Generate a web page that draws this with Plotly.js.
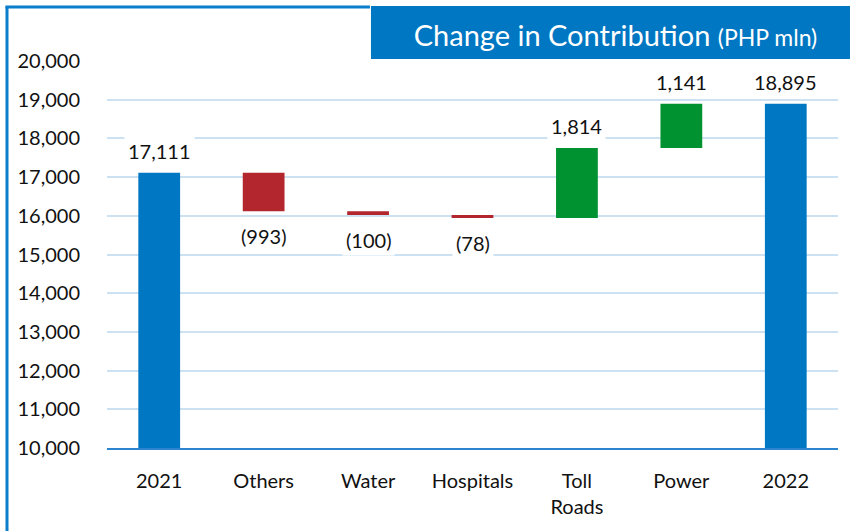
<!DOCTYPE html>
<html>
<head>
<meta charset="utf-8">
<script src="https://cdn.plot.ly/plotly-3.0.1.min.js"></script>
<style>
  html, body { margin: 0; padding: 0; background: #ffffff; }
  #chart { width: 850px; height: 531px; }
</style>
</head>
<body>
<div id="chart"></div>
<script>
// ---- data ----
const categories = ['2021', 'Others', 'Water', 'Hospitals', 'Toll<br>Roads', 'Power', '2022'];
const values = [17111, -993, -100, -78, 1814, 1141, 18895];
const measures = ['absolute', 'relative', 'relative', 'relative', 'relative', 'relative', 'total'];
const labelTexts = ['17,111', '(993)', '(100)', '(78)', '1,814', '1,141', '18,895'];
const yTickVals = [10000, 11000, 12000, 13000, 14000, 15000, 16000, 17000, 18000, 19000, 20000];
const yTickText = ['10,000', '11,000', '12,000', '13,000', '14,000', '15,000', '16,000', '17,000', '18,000', '19,000', '20,000'];

const BLUE = '#0077C2';
const RED = '#B3262D';
const GREEN = '#009130';
const FONT = 'Lato, "Open Sans", sans-serif';

// running totals to place the labels at the end of each bar
let running = 0;
const annotations = [];
for (let i = 0; i < values.length; i++) {
  let top, bottom;
  if (measures[i] === 'absolute') { running = values[i]; top = running; }
  else if (measures[i] === 'total') { top = running; }
  else {
    const start = running;
    running += values[i];
    top = Math.max(start, running);
    bottom = Math.min(start, running);
  }
  const neg = measures[i] === 'relative' && values[i] < 0;
  annotations.push({
    x: i, xref: 'x', y: neg ? bottom : top, yref: 'y',   // x = category index
    text: labelTexts[i], showarrow: false,
    yanchor: neg ? 'top' : 'bottom', yshift: neg ? -9 : 6,
    font: { family: FONT, size: 20, color: '#111111' },
    bgcolor: '#ffffff', borderpad: 3
  });
}

const trace = {
  type: 'waterfall',
  x: categories,
  y: values,
  measure: measures,
  textinfo: 'none',
  hoverinfo: 'x+y',
  connector: { visible: false },
  increasing: { marker: { color: GREEN } },
  decreasing: { marker: { color: RED } },
  totals: { marker: { color: BLUE } }
};

const layout = {
  width: 850, height: 531,
  margin: { l: 107, r: 12, t: 61, b: 83, pad: 0 },
  paper_bgcolor: '#ffffff', plot_bgcolor: '#ffffff',
  showlegend: false,
  waterfallgap: 0.6,
  font: { family: FONT, size: 20, color: '#111111' },
  title: {
    text: 'Change in Contribution <span style="font-size:23px">(PHP mln)</span>',
    font: { family: FONT, size: 29, color: '#ffffff' },
    xref: 'container', yref: 'container',
    x: 0.7241, xanchor: 'center', y: 0.932, yanchor: 'middle'
  },
  xaxis: {
    type: 'category',
    range: [-0.5, categories.length - 0.5],
    showgrid: false,
    showline: true, linecolor: '#2B86CF', linewidth: 2,
    ticks: 'outside', ticklen: 14, tickcolor: 'rgba(0,0,0,0)',
    tickfont: { family: FONT, size: 20, color: '#111111' },
    fixedrange: true
  },
  yaxis: {
    range: [10000, 20000],
    tickvals: yTickVals, ticktext: yTickText,
    showgrid: true, gridcolor: '#CCE2F3', gridwidth: 2,
    zeroline: false, showline: false,
    ticks: 'outside', ticklen: 22, tickcolor: 'rgba(0,0,0,0)',
    tickfont: { family: FONT, size: 20, color: '#111111' },
    fixedrange: true
  },
  annotations: annotations,
  shapes: [
    // outer border: left and top
    { type: 'line', xref: 'paper', yref: 'paper', x0: -0.1368, x1: -0.1368, y0: 1.1395, y1: -0.25,
      line: { color: '#0A7DCB', width: 3 }, layer: 'above' },
    { type: 'line', xref: 'paper', yref: 'paper', x0: -0.139, x1: 0.3597, y0: 1.1395, y1: 1.1395,
      line: { color: '#0A7DCB', width: 3 }, layer: 'above' },
    // title box
    { type: 'rect', xref: 'paper', yref: 'paper', x0: 0.3611, x1: 1.02, y0: 1.0052, y1: 1.1421,
      fillcolor: BLUE, line: { width: 0 }, layer: 'above' },
    // small white gap in the top gridline next to the title box
    { type: 'rect', xref: 'paper', yref: 'paper', x0: 0.328, x1: 0.3611, y0: 0.993, y1: 1.005,
      fillcolor: '#ffffff', line: { width: 0 }, layer: 'above' }
  ]
};

Plotly.newPlot('chart', [trace], layout, { displayModeBar: false, staticPlot: true });
</script>
</body>
</html>
